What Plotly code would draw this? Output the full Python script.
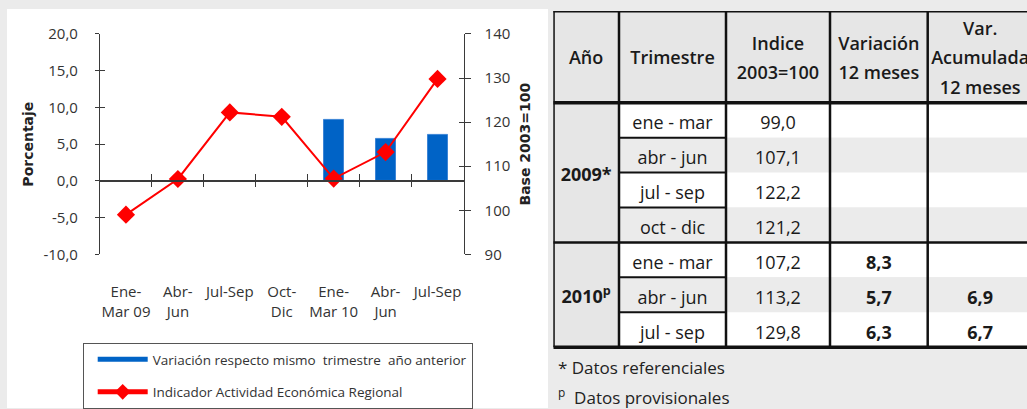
import plotly.graph_objects as go

# ---- chart data -------------------------------------------------------------
quarters = ["Ene-<br>Mar 09", "Abr-<br>Jun", "Jul-Sep", "Oct-<br>Dic",
            "Ene-<br>Mar 10", "Abr-<br>Jun", "Jul-Sep"]
variacion = [None, None, None, None, 8.3, 5.7, 6.3]          # %
indice = [99.0, 107.1, 122.2, 121.2, 107.2, 113.2, 129.8]     # base 2003=100
pct_ticks = [-10, -5, 0, 5, 10, 15, 20]
idx_ticks = [90, 100, 110, 120, 130, 140]

# ---- table data -------------------------------------------------------------
headers = ["Año", "Trimestre", "Indice<br>2003=100", "Variación<br>12 meses",
           "Var.<br>Acumulada<br>12 meses"]
years = ["2009*", "2010<sup>p</sup>"]
year_rows = [4, 3]
trimestres = ["ene - mar", "abr - jun", "jul - sep", "oct - dic",
              "ene - mar", "abr - jun", "jul - sep"]
var_acum = [None, None, None, None, None, 6.9, 6.7]
footnotes = ["* Datos referenciales", "<sup>p</sup>  Datos provisionales"]

# ---- styling ----------------------------------------------------------------
W, H = 1027, 409
BLUE = "#0063C6"
RED = "#FF0000"
AXIS = "#3a3a3a"
TXT = "#333333"
FONT = "Open Sans"
TITLE_FONT = "DejaVu Sans"


def px_x(p):
    return p / W


def px_y(p):
    return (H - p) / H


def fmt(v):
    return "" if v is None else f"{v:.1f}".replace(".", ",")


n = len(quarters)
xs = list(range(n))
x_dom = [px_x(100), px_x(463.5)]
y_dom = [px_y(255), px_y(34)]
y_rng = [min(pct_ticks), max(pct_ticks)]
y2_rng = [min(idx_ticks), max(idx_ticks)]
zero_pos = y_dom[0] + (0 - y_rng[0]) / (y_rng[1] - y_rng[0]) * (y_dom[1] - y_dom[0])
bounds = [i + 0.5 for i in range(n - 1)]

fig = go.Figure()

fig.add_trace(go.Bar(
    x=xs, y=variacion, width=0.385, xaxis="x", yaxis="y",
    marker=dict(color=BLUE, line=dict(color="#3d85d6", width=1)),
    showlegend=False, hoverinfo="skip",
))
# legend swatch for the bars (wide band like the printed key)
fig.add_trace(go.Scatter(
    x=[None], y=[None], mode="lines", xaxis="x", yaxis="y",
    line=dict(color=BLUE, width=7),
    name="Variación respecto mismo\u00a0 trimestre\u00a0 año anterior",
    legendgroup="a",
))
fig.add_trace(go.Scatter(
    x=xs, y=indice, mode="lines+markers", xaxis="x", yaxis="y2",
    line=dict(color=RED, width=2),
    marker=dict(symbol="diamond", size=14, color=RED),
    name="Indicador Actividad Económica Regional",
    legendgroup="b",
))
# empty traces so the tick-only helper axes get drawn
for xa, ya in [("x2", "y"), ("x3", "y"), ("x", "y3"), ("x", "y4")]:
    fig.add_trace(go.Scatter(x=[None], y=[None], xaxis=xa, yaxis=ya, mode="markers",
                             showlegend=False, hoverinfo="skip"))

# ---- table ------------------------------------------------------------------
col_w = [65.7, 107, 104, 97.7, 105]
edges = [0]
for w in col_w:
    edges.append(edges[-1] + w)
header_h = 92
row_h = 35
n_rows = len(trimestres)
table_h = header_h + n_rows * row_h
tx_rng = [0, W - 553.3]
ty_rng = [H - 11, 0]

shapes = []
# white panel behind the chart
shapes.append(dict(type="rect", xref="paper", yref="paper",
                   x0=px_x(7), x1=px_x(548), y0=0, y1=px_y(9),
                   fillcolor="white", line=dict(width=0), layer="below"))

HDR_FILL = "#e6e6e6"
ALT_FILL = "#ebebeb"
for c in range(len(col_w)):
    shapes.append(dict(type="rect", xref="x4", yref="y5",
                       x0=edges[c], x1=edges[c + 1], y0=0, y1=header_h,
                       fillcolor=HDR_FILL, line=dict(width=0), layer="below"))
shapes.append(dict(type="rect", xref="x4", yref="y5",
                   x0=edges[0], x1=edges[1], y0=header_h, y1=table_h,
                   fillcolor=HDR_FILL, line=dict(width=0), layer="below"))

row_block = []
for b, cnt in enumerate(year_rows):
    row_block += [(b, k) for k in range(cnt)]

for r, (b, k) in enumerate(row_block):
    top = header_h + r * row_h
    shapes.append(dict(type="rect", xref="x4", yref="y5",
                       x0=edges[1], x1=edges[5], y0=top, y1=top + row_h,
                       fillcolor="white" if k % 2 == 0 else ALT_FILL,
                       line=dict(width=0), layer="below"))

LINE = "#111111"


def hline(y, x0, x1, w):
    shapes.append(dict(type="line", xref="x4", yref="y5", x0=x0, x1=x1,
                       y0=y, y1=y, line=dict(color=LINE, width=w)))


def vline(x, y0, y1, w):
    shapes.append(dict(type="line", xref="x4", yref="y5", x0=x, x1=x,
                       y0=y0, y1=y1, line=dict(color=LINE, width=w)))


for c in range(len(col_w)):
    vline(edges[c], 0, table_h, 3 if c == 0 else 2.5)
hline(0, edges[0], edges[5], 3)
hline(header_h, edges[0], edges[5], 3.5)
hline(table_h, edges[0], edges[5], 3.5)
r = 0
for b, cnt in enumerate(year_rows):
    for k in range(1, cnt):
        hline(header_h + (r + k) * row_h, edges[1], edges[2], 2)
    r += cnt
    if b < len(year_rows) - 1:
        hline(header_h + r * row_h, edges[0], edges[5], 2.5)

# text baseline nudges (glyphs sit slightly high when centred)
HDR_DY = 3
BODY_DY = 4.5
cx = [(edges[c] + edges[c + 1]) / 2 for c in range(len(col_w))]
row_cy = [header_h + (i + 0.5) * row_h + BODY_DY for i in range(n_rows)]

# header text, one line per trace point
LINE_GAP = 29.5
hx, hy, ht = [], [], []
for c, h in enumerate(headers):
    lines = h.split("<br>")
    for j, ln in enumerate(lines):
        hx.append(cx[c])
        hy.append(header_h / 2 + HDR_DY + (j - (len(lines) - 1) / 2) * LINE_GAP)
        ht.append(ln)
fig.add_trace(go.Scatter(x=hx, y=hy, text=ht, mode="text", xaxis="x4", yaxis="y5",
                         textfont=dict(family=FONT, size=18, color="#1a1a1a", weight=600),
                         showlegend=False, hoverinfo="skip"))

# year labels centred in their blocks
yb, r = [], 0
for cnt in year_rows:
    yb.append(header_h + (r + cnt / 2) * row_h + BODY_DY - 1)
    r += cnt
fig.add_trace(go.Scatter(x=[cx[0]] * len(years), y=yb, text=years, mode="text",
                         xaxis="x4", yaxis="y5",
                         textfont=dict(family=FONT, size=18, color="#1a1a1a", weight=700),
                         showlegend=False, hoverinfo="skip"))


def column_text(col, values, weight="normal"):
    pts = [(row_cy[i], v) for i, v in enumerate(values) if v not in (None, "")]
    fig.add_trace(go.Scatter(
        x=[cx[col]] * len(pts), y=[p[0] for p in pts],
        text=[p[1] if isinstance(p[1], str) else fmt(p[1]) for p in pts],
        mode="text", xaxis="x4", yaxis="y5",
        textfont=dict(family=FONT, size=18, color="#1a1a1a", weight=weight),
        showlegend=False, hoverinfo="skip"))


column_text(1, trimestres)
column_text(2, indice)
column_text(3, variacion, 700)
column_text(4, var_acum, 700)

annotations = []
for i, note in enumerate(footnotes):
    annotations.append(dict(xref="paper", yref="paper", x=px_x(556), y=px_y(368 + i * 29),
                            xanchor="left", yanchor="middle", showarrow=False,
                            text=note, font=dict(family=FONT, size=17, color="#222")))

tick_font = dict(family=FONT, size=15, color=TXT)
title_font = dict(family=TITLE_FONT, size=14, color="#222", weight="bold")

fig.update_layout(
    width=W, height=H,
    margin=dict(l=0, r=0, t=0, b=0),
    paper_bgcolor="#ebebeb",
    plot_bgcolor="rgba(0,0,0,0)",
    font=dict(family=FONT, color=TXT),
    bargap=0,
    shapes=shapes,
    annotations=annotations,
    xaxis=dict(domain=x_dom, range=[-0.5, n - 0.5], anchor="y",
               tickmode="array", tickvals=xs, ticktext=quarters,
               ticks="outside", ticklen=24, tickcolor="rgba(0,0,0,0)",
               showline=False, showgrid=False, zeroline=False,
               tickfont=tick_font),
    xaxis2=dict(domain=x_dom, range=[-0.5, n - 0.5], overlaying="x",
                anchor="free", position=zero_pos,
                tickmode="array", tickvals=bounds, ticks="inside", ticklen=6,
                tickcolor=AXIS, tickwidth=1.2, showticklabels=False,
                showline=True, linecolor=AXIS, linewidth=1.5,
                showgrid=False, zeroline=False),
    xaxis3=dict(domain=x_dom, range=[-0.5, n - 0.5], overlaying="x",
                anchor="free", position=zero_pos,
                tickmode="array", tickvals=bounds, ticks="outside", ticklen=5,
                tickcolor=AXIS, tickwidth=1.2, showticklabels=False,
                showline=False, showgrid=False, zeroline=False),
    yaxis=dict(domain=y_dom, range=y_rng, anchor="x",
               tickmode="array", tickvals=pct_ticks, ticktext=[fmt(v) for v in pct_ticks],
               ticks="outside", ticklen=4, tickcolor=AXIS, tickwidth=1.2,
               ticklabelstandoff=14,
               showline=True, linecolor=AXIS, linewidth=1.2,
               showgrid=False, zeroline=True, zerolinecolor=AXIS, zerolinewidth=1.5,
               tickfont=tick_font,
               title=dict(text="Porcentaje", font=title_font, standoff=6)),
    yaxis3=dict(domain=y_dom, range=y_rng, anchor="x", overlaying="y", side="left",
                tickmode="array", tickvals=pct_ticks, ticks="inside", ticklen=5,
                tickcolor=AXIS, tickwidth=1.2, showticklabels=False,
                showline=False, showgrid=False, zeroline=False),
    yaxis2=dict(domain=y_dom, range=y2_rng, anchor="x", overlaying="y", side="right",
                tickmode="array", tickvals=idx_ticks,
                ticks="outside", ticklen=6, tickcolor=AXIS, tickwidth=1.2,
                ticklabelstandoff=11,
                showline=True, linecolor=AXIS, linewidth=1.2,
                showgrid=False, zeroline=False,
                tickfont=tick_font,
                title=dict(text="Base 2003=100", font=title_font, standoff=10)),
    yaxis4=dict(domain=y_dom, range=y2_rng, anchor="x", overlaying="y", side="right",
                tickmode="array", tickvals=idx_ticks, ticks="inside", ticklen=5,
                tickcolor=AXIS, tickwidth=1.2, showticklabels=False,
                showline=False, showgrid=False, zeroline=False),
    xaxis4=dict(domain=[px_x(553.3), 1], range=tx_rng, anchor="y5", visible=False),
    yaxis5=dict(domain=[0, px_y(11)], range=ty_rng, anchor="x4", visible=False),
    legend=dict(x=px_x(82.7), y=px_y(344), xanchor="left", yanchor="top",
                bgcolor="white", bordercolor="#555", borderwidth=1,
                font=dict(family=FONT, size=13.5, color=TXT),
                itemwidth=50, itemsizing="constant", indentation=9,
                traceorder="grouped", tracegroupgap=12),
)
fig.update_xaxes(automargin=False, fixedrange=True)
fig.update_yaxes(automargin=False, fixedrange=True)

fig.write_html("out.html")
